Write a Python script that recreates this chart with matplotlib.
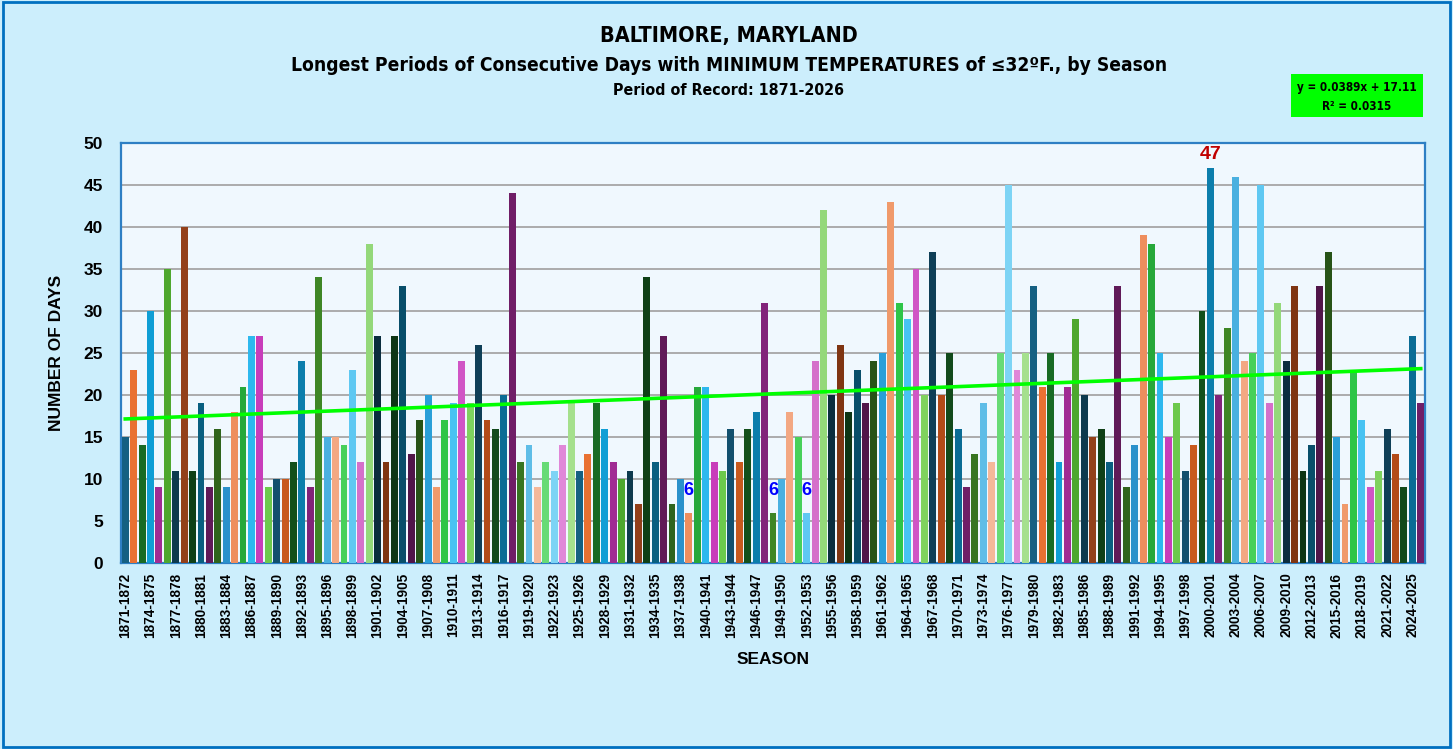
import numpy as np
import matplotlib.pyplot as plt
from matplotlib.patches import Rectangle

# -------------------------------------------------------------
# Data - longest run of days with min temp <= 32F, per season
# -------------------------------------------------------------
first_year = 1871
days = [
    15, 23, 14, 30, 9, 35, 11, 40, 11, 19,   # 1871-1880
    9, 16, 9, 18, 21, 27, 27, 9, 10, 10,     # 1881-1890
    12, 24, 9, 34, 15, 15, 14, 23, 12, 38,   # 1891-1900
    27, 12, 27, 33, 13, 17, 20, 9, 17, 19,   # 1901-1910
    24, 19, 26, 17, 16, 20, 44, 12, 14, 9,   # 1911-1920
    12, 11, 14, 19, 11, 13, 19, 16, 12, 10,  # 1921-1930
    11, 7, 34, 12, 27, 7, 10, 6, 21, 21,     # 1931-1940
    12, 11, 16, 12, 16, 18, 31, 6, 10, 18,   # 1941-1950
    15, 6, 24, 42, 20, 26, 18, 23, 19, 24,   # 1951-1960
    25, 43, 31, 29, 35, 20, 37, 20, 25, 16,  # 1961-1970
    9, 13, 19, 12, 25, 45, 23, 25, 33, 21,   # 1971-1980
    25, 12, 21, 29, 20, 15, 16, 12, 33, 9,   # 1981-1990
    14, 39, 38, 25, 15, 19, 11, 14, 30, 47,  # 1991-2000
    20, 28, 46, 24, 25, 45, 19, 31, 24, 33,  # 2001-2010
    11, 14, 33, 37, 15, 7, 23, 17, 9, 11,    # 2011-2020
    16, 13, 9, 27, 19,                       # 2021-2025
]
seasons = [f"{y}-{y + 1}" for y in range(first_year, first_year + len(days))]

# trend line as printed on the chart
slope = 0.0389
intercept = 17.11
r_squared = 0.0315

# Office-style varied colours (cycle of 54)
palette = [
    '#156082', '#E97132', '#196B24', '#0F9ED5', '#A02B93', '#4EA72E',
    '#0D3A4E', '#93401A', '#0F4016', '#095F80', '#601A58', '#2F641C',
    '#2A91CB', '#EE8E5E', '#27A83A', '#2DB8EE', '#C83DBA', '#6CC94C',
    '#12506E', '#C85A1E', '#13501B', '#0C7EAC', '#82237A', '#3E8625',
    '#4AB0E0', '#F3A883', '#47D05A', '#5FC8F2', '#D570CA', '#94D87A',
    '#0A2D3E', '#7F3512', '#0D3514', '#084E6A', '#501549', '#275317',
    '#2A9FD8', '#F09A6B', '#2EC548', '#48C3F2', '#D055C5', '#7FD25E',
    '#0F3F57', '#B34B18', '#124A1B', '#0A6C95', '#701E67', '#377521',
    '#5FBDE7', '#F5B899', '#67DB76', '#7DD4F5', '#E087D8', '#A5E08D',
]

plt.rcParams['font.family'] = ['Liberation Sans', 'DejaVu Sans']
narrow = dict(family=['DejaVu Sans'], fontstretch='condensed')

# -------------------------------------------------------------
# Figure
# -------------------------------------------------------------
fig = plt.figure(figsize=(14.53, 7.49), dpi=100, facecolor='#CCEEFC')
fig.patches.append(Rectangle((0.002, 0.003), 0.996, 0.994, transform=fig.transFigure,
                             fill=False, edgecolor='#0070C0', linewidth=2))

ax = fig.add_axes([0.0833, 0.2483, 0.8974, 0.5608])
ax.set_facecolor('#F0F8FE')
for s in ax.spines.values():
    s.set_color('#2E7FC4')
    s.set_linewidth(1.6)

x = np.arange(len(days))
colors = [palette[i % len(palette)] for i in range(len(days))]
ax.bar(x, days, width=0.82, color=colors, zorder=3)

# trend line
xs = x + 1
ax.plot(x, slope * xs + intercept, color='#00FF00', linewidth=2.6, zorder=4)

# labels for record low / high
dmin, dmax = min(days), max(days)
for i, d in enumerate(days):
    if d == dmin:
        ax.annotate(str(d), (i, d), xytext=(0, 10), textcoords='offset points',
                    ha='center', va='bottom', color='#0000FF', fontsize=13, fontweight='bold', zorder=5)
    elif d == dmax:
        ax.annotate(str(d), (i, d), xytext=(0, 4), textcoords='offset points',
                    ha='center', va='bottom', color='#C00000', fontsize=14, fontweight='bold', zorder=5)

ax.set_xlim(-0.5, len(days) - 0.5)
ax.set_ylim(0, 50)
ax.set_yticks(range(0, 51, 5))
ax.yaxis.grid(True, color='#A6A6A6', linewidth=1.3)
ax.set_axisbelow(True)

ax.set_xticks(x[::3])
ax.set_xticklabels(seasons[::3], rotation=90, fontsize=9.8, fontweight='bold')
ax.tick_params(axis='x', length=0, pad=7)
ax.tick_params(axis='y', length=0, pad=13, labelsize=12.5)
for lbl in ax.get_yticklabels():
    lbl.set_fontweight('bold')

ax.set_ylabel('NUMBER OF DAYS', fontsize=12.5, fontweight='bold', labelpad=14)
ax.set_xlabel('SEASON', fontsize=12.5, fontweight='bold', labelpad=10)

# titles
fig.text(0.5017, 0.952, 'BALTIMORE, MARYLAND', ha='center', va='center',
         fontsize=15.5, fontweight='bold', **narrow)
fig.text(0.5017, 0.913, 'Longest Periods of Consecutive Days with MINIMUM TEMPERATURES of ≤32ºF., by Season',
         ha='center', va='center', fontsize=13.8, fontweight='bold', **narrow)
fig.text(0.5017, 0.879, 'Period of Record: 1871-2026', ha='center', va='center',
         fontsize=11.4, fontweight='bold', **narrow)

# equation box
fig.patches.append(Rectangle((1291 / 1453, 1 - 117 / 749), 132 / 1453, 43 / 749,
                             transform=fig.transFigure, facecolor='#00FF00', edgecolor='none'))
fig.text(1357 / 1453, 1 - 87 / 749, f'y = {slope}x + {intercept}', ha='center', va='center',
         fontsize=8.4, fontweight='bold', **narrow)
fig.text(1357 / 1453, 1 - 106 / 749, f'R² = {r_squared}', ha='center', va='center',
         fontsize=8.4, fontweight='bold', **narrow)

plt.savefig('out.png', dpi=100, facecolor=fig.get_facecolor())
